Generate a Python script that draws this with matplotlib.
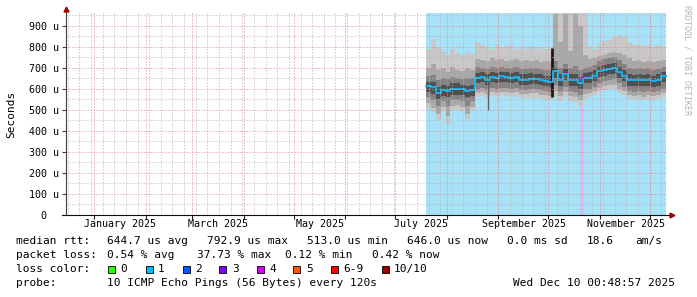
import matplotlib

matplotlib.use("Agg")
import matplotlib.pyplot as plt
import matplotlib.patches as mpatches
import numpy as np
import pandas as pd

# smokeping RTT, one value per ~3 day bin from Jul 19 to Dec 10 2025 (in microseconds)
median = [614, 608, 582, 595, 591, 598, 601, 598, 591, 595,
          651, 656, 643, 656, 651, 659, 656, 651, 656, 643, 643, 648, 648, 643, 637, 634,
          682, 643, 671, 643, 640, 627, 651,
          651, 662, 682, 687, 694, 698, 678, 662, 643, 640, 643, 640, 643, 637, 643, 659]
hi_a = [790, 835, 800, 780, 760, 790, 770, 760, 775, 765,
        820, 810, 800, 790, 815, 800, 805, 810, 790, 800, 790, 805, 790, 800, 790, 795,
        960, 960, 960, 960, 960, 960, 960,
        800, 790, 810, 825, 830, 845, 855, 845, 820, 810, 815, 805, 810, 800, 810, 800]
hi_b = [700, 720, 690, 700, 680, 705, 690, 685, 700, 690,
        740, 735, 730, 745, 735, 740, 730, 735, 740, 730, 735, 730, 735, 725, 730, 730,
        955, 820, 955, 780, 955, 900, 760,
        740, 745, 755, 760, 770, 775, 770, 760, 745, 730, 735, 725, 730, 725, 730, 735]
hi_c = [660, 665, 640, 650, 645, 655, 650, 645, 650, 650,
        705, 700, 695, 705, 700, 705, 700, 700, 705, 695, 695, 700, 700, 695, 690, 690,
        730, 700, 720, 700, 710, 690, 700,
        705, 715, 730, 740, 745, 750, 735, 720, 700, 695, 700, 695, 700, 690, 695, 705]
hi_d = [630, 630, 610, 620, 615, 625, 625, 620, 615, 620,
        675, 680, 670, 680, 675, 680, 680, 675, 680, 670, 670, 675, 672, 668, 662, 660,
        700, 670, 695, 670, 668, 655, 675,
        678, 690, 705, 712, 718, 722, 705, 690, 670, 665, 668, 665, 668, 662, 668, 680]
lo_d = [585, 575, 550, 565, 560, 570, 572, 568, 560, 565,
        625, 630, 618, 630, 625, 632, 630, 625, 630, 618, 618, 622, 622, 618, 612, 608,
        650, 615, 640, 615, 612, 600, 625,
        625, 635, 655, 660, 668, 672, 652, 635, 615, 612, 615, 612, 615, 610, 615, 630]
lo_c = [560, 545, 520, 540, 520, 545, 548, 540, 520, 540,
        600, 605, 595, 605, 600, 605, 605, 600, 605, 595, 595, 598, 598, 592, 588, 585,
        620, 590, 610, 590, 585, 570, 600,
        600, 610, 628, 635, 640, 645, 625, 610, 590, 585, 590, 585, 590, 585, 590, 600]
lo_b = [530, 510, 480, 515, 470, 520, 525, 515, 480, 515,
        578, 585, 575, 585, 580, 585, 585, 578, 585, 575, 575, 578, 578, 572, 568, 565,
        590, 565, 585, 565, 560, 545, 575,
        580, 590, 605, 612, 618, 620, 600, 588, 570, 565, 568, 562, 570, 565, 568, 578]
lo_a = [505, 490, 450, 495, 430, 500, 505, 495, 455, 500,
        560, 565, 555, 565, 560, 568, 565, 560, 565, 555, 555, 558, 558, 552, 548, 545,
        560, 540, 560, 540, 535, 520, 550,
        560, 570, 585, 592, 598, 600, 580, 568, 552, 548, 550, 545, 552, 548, 550, 560]

spike_dates = ["2025-08-26", "2025-10-03"]
spike_lo = [500, 560]
spike_hi = [640, 795]
loss_date = "2025-10-21"
loss_val = 657

data_start, data_end = "2025-07-19 10:00", "2025-12-10 18:00"
month_labels = ["January 2025", "March 2025", "May 2025", "July 2025",
                "September 2025", "November 2025"]
month_label_dates = ["2025-01-16 12:00", "2025-03-16 12:00", "2025-05-16 12:00",
                     "2025-07-16 12:00", "2025-09-16 12:00", "2025-11-16 12:00"]
yticks = [0, 100, 200, 300, 400, 500, 600, 700, 800, 900]

legend_rows = [
    [("median rtt:", 16), ("644.7 us avg", 107), ("792.9 us max", 207), ("513.0 us min", 307),
     ("646.0 us now", 407), ("0.0 ms sd", 507), ("18.6", 587), ("am/s", 635)],
    [("packet loss:", 16), ("0.54 % avg", 107), ("37.73 % max", 197), ("0.12 % min", 285),
     ("0.42 % now", 372)],
    [("loss color:", 16)],
    [("probe:", 16), ("10 ICMP Echo Pings (56 Bytes) every 120s", 107),
     ("Wed Dec 10 00:48:57 2025", 513)],
]
legend_y = [241, 255, 269, 283]
loss_labels = ["0", "1", "2", "3", "4", "5", "6-9", "10/10"]
loss_colors = ["#26ff00", "#00b8ff", "#0059ff", "#7e00ff", "#dd00ff", "#ff5500", "#ff0000", "#a10000"]
loss_box_x = [108, 145.7, 182.7, 219.3, 256.7, 293.3, 330.7, 381.7]

plt.rcParams["font.family"] = "DejaVu Sans Mono"

W, H = 697, 297
L, R, B, T = 66, 667, 215, 13
fig = plt.figure(figsize=(W / 100, H / 100), dpi=100)
ax = fig.add_axes([L / W, 1 - B / H, (R - L) / W, (B - T) / H])
ax.set_xlim(pd.Timestamp("2024-12-14 23:30"), pd.Timestamp("2025-12-11 09:00"))
ax.set_ylim(0, 960)

# light blue background where data exists
ax.axvspan(pd.Timestamp(data_start), pd.Timestamp(data_end), color="#a8e2f8", lw=0, zorder=0)
ax.vlines(pd.Timestamp(loss_date), 0, 560, color="#e2a8f0", lw=1, zorder=1)

edges = pd.date_range(data_start, data_end, periods=len(median) + 1)
def ext(a): return np.append(a, a[-1])
for lo, hi, c in [(lo_a, hi_a, "#c8c8c8"), (lo_b, hi_b, "#a8a8a8"),
                  (lo_c, hi_c, "#838383"), (lo_d, hi_d, "#505050")]:
    ax.fill_between(edges, ext(lo), ext(hi), step="post", color=c, lw=0, zorder=2)
ax.vlines(pd.to_datetime(spike_dates), spike_lo, spike_hi, color=["#606060", "#1a1a1a"],
          lw=[1, 2], zorder=3)
ax.step(edges, ext(median), where="post", color="#14b4f0", lw=1.4, zorder=4)
ax.plot(pd.Timestamp(loss_date), loss_val, "s", color="#dd00ff", ms=2, zorder=5)

# rrdtool style dotted grid
dots = dict(lw=0.72, dashes=(1, 2), zorder=6)
for d in pd.date_range("2024-12-16", "2025-12-11", freq="7D"):
    ax.axvline(d, color="#b4b4b4", **dots)
months = pd.date_range("2025-01-01", "2025-12-01", freq="MS")
for d in months:
    ax.axvline(d, color="#e08888", **dots)
for v in range(50, 960, 100):
    ax.axhline(v, color="#b4b4b4", **dots)
for v in yticks[1:]:
    ax.axhline(v, color="#e08888", **dots)

for s in ax.spines.values():
    s.set_visible(False)
ax.set_yticks(yticks)
ax.set_yticklabels(["0  "] + [f"{v} u" for v in yticks[1:]], fontsize=7.2)
ax.tick_params(axis="y", length=3, pad=2, color="#404040")
ax.set_xticks(months)
ax.set_xticklabels([])
ax.set_xticks(pd.to_datetime(month_label_dates), minor=True)
ax.set_xticklabels(month_labels, minor=True, fontsize=7.2)
ax.tick_params(axis="x", which="major", length=3, color="#202020")
ax.tick_params(axis="x", which="minor", length=0, pad=3)

# axis lines with arrow heads
ax.plot([0, 0], [0, 1 + 2 / 202], transform=ax.transAxes, color="#404040", lw=0.8,
        clip_on=False, zorder=7)
ax.plot([-4 / 601, 1 + 2 / 601], [0, 0], transform=ax.transAxes, color="#101010", lw=0.8,
        clip_on=False, zorder=7)
ax.plot(0, 1 + 4 / 202, "^", ms=3.5, color="#a00000", transform=ax.transAxes, clip_on=False, zorder=8)
ax.plot(1 + 5 / 601, 0, ">", ms=3.5, color="#a00000", transform=ax.transAxes, clip_on=False, zorder=8)

fig.text(11 / W, 1 - 114 / H, "Seconds", rotation=90, ha="center", va="center", fontsize=8)
fig.text(687 / W, 1 - 5 / H, "RRDTOOL / TOBI OETIKER", rotation=-90, ha="center", va="top",
         fontsize=6, color="#b4b4b4")

for row, y in zip(legend_rows, legend_y):
    for txt, x in row:
        fig.text(x / W, 1 - y / H, txt, ha="left", va="center", fontsize=8)
for x, c, lab in zip(loss_box_x, loss_colors, loss_labels):
    fig.patches.append(mpatches.Rectangle((x / W, 1 - 272.5 / H), 7 / W, 7 / H,
                                          transform=fig.transFigure, facecolor=c,
                                          edgecolor="black", lw=0.6))
    fig.text((x + 12.5) / W, 1 - 269 / H, lab, ha="left", va="center", fontsize=8)

fig.savefig("out.png", dpi=100)
